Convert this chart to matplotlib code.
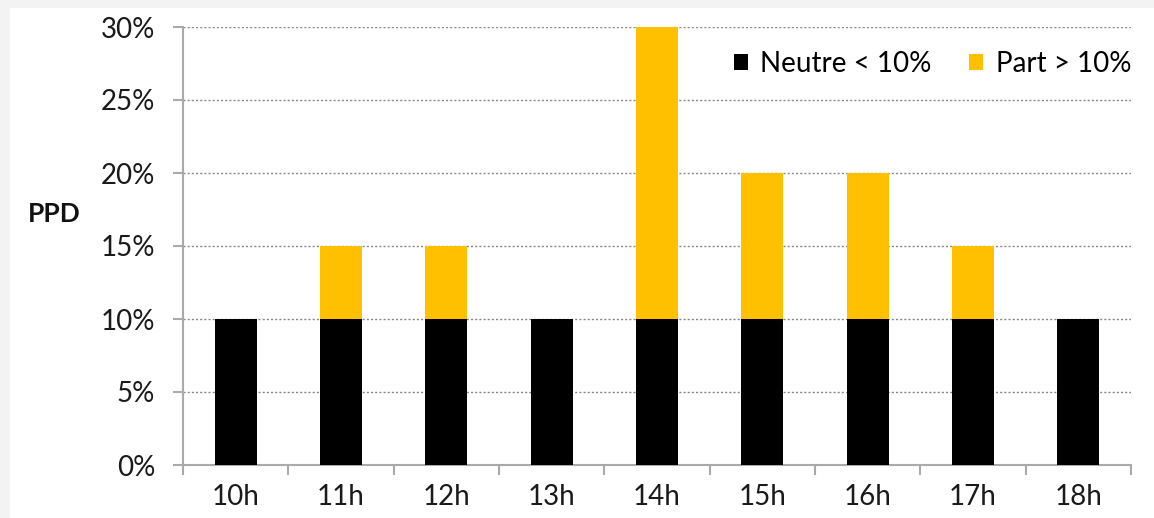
import matplotlib
matplotlib.use("Agg")
import matplotlib.pyplot as plt
from matplotlib.patches import Rectangle, Patch
import numpy as np

hours = ["10h", "11h", "12h", "13h", "14h", "15h", "16h", "17h", "18h"]
neutre = [10, 10, 10, 10, 10, 10, 10, 10, 10]
part = [0, 5, 5, 0, 20, 10, 10, 5, 0]
yticks = [0, 5, 10, 15, 20, 25, 30]

plt.rcParams['font.family'] = ['Lato', 'DejaVu Sans']

fig = plt.figure(figsize=(11.54, 5.18), dpi=100, facecolor='white')
fig.patches.append(Rectangle((0, 0), 10/1154, 1, transform=fig.transFigure,
                             facecolor='#f3f3f3', edgecolor='none', zorder=-5))
fig.patches.append(Rectangle((0, 1 - 8/518), 1, 8/518, transform=fig.transFigure,
                             facecolor='#f3f3f3', edgecolor='none', zorder=-5))
ax = fig.add_axes([183/1154, 1 - 465/518, (1131 - 183)/1154, (465 - 27)/518])
ax.set_facecolor('none')

x = np.arange(len(hours))
ax.bar(x, neutre, width=0.4, color='black', zorder=3, label='Neutre < 10%')
ax.bar(x, part, width=0.4, bottom=neutre, color='#FFC000', zorder=3, label='Part > 10%')

ax.set_xlim(-0.5, len(hours) - 0.5)
ax.set_ylim(0, 30)
ax.set_yticks(yticks)
ax.set_yticklabels([f"{v}%" for v in yticks])
ax.set_xticks(np.arange(len(hours) + 1) - 0.5)
ax.set_xticklabels([])
ax.set_xticks(x, minor=True)
ax.set_xticklabels(hours, minor=True)
ax.tick_params(axis='x', which='major', length=7, width=1.5, color='#aaaaaa', direction='out')
ax.tick_params(axis='x', which='minor', length=0, pad=14, labelsize=20, labelcolor='#1a1a1a')
ax.tick_params(axis='y', length=7, width=1.5, color='#aaaaaa', direction='out', pad=13,
               labelsize=20, labelcolor='#1a1a1a')

for s in ['top', 'right']:
    ax.spines[s].set_visible(False)
for s in ['left', 'bottom']:
    ax.spines[s].set_color('#aaaaaa')
    ax.spines[s].set_linewidth(1.5)

ax.yaxis.grid(True, linestyle=(0, (1.5, 1.5)), color='#888888', linewidth=1, zorder=1)
ax.set_axisbelow(True)

fig.text(28/1154, 1 - 214/518, 'PPD', fontsize=19, fontweight='bold', va='center', ha='left',
         color='#111111')

handles = [Patch(facecolor='black', edgecolor='none'), Patch(facecolor='#FFC000', edgecolor='none')]
ax.legend(handles, ['Neutre < 10%', 'Part > 10%'], loc='center right',
          bbox_to_anchor=(1.0, (465 - 64) / 438),
          ncol=2, frameon=False, fontsize=20, handlelength=0.5, handleheight=0.5,
          handletextpad=0.45, columnspacing=1.35, borderaxespad=0, borderpad=0)

fig.savefig('out.png', dpi=100, facecolor=fig.get_facecolor())
